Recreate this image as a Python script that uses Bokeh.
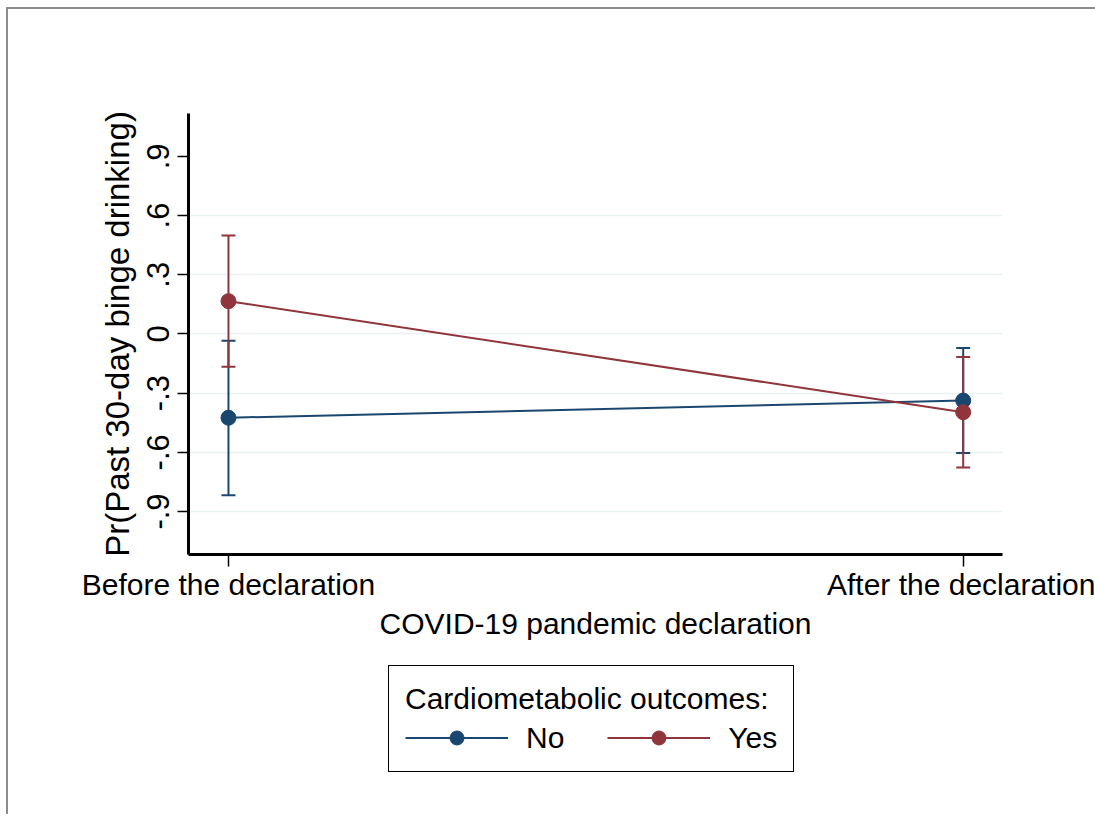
from bokeh.plotting import figure
from bokeh.layouts import column
from bokeh.models import FixedTicker, Legend, LegendItem, Range1d
from bokeh.embed import file_html
from bokeh.resources import INLINE

# ---- data ----
periods = ["Before the declaration", "After the declaration"]
x_pos = [0, 1]
no_mean = [-0.425, -0.338]
no_lo = [-0.818, -0.603]
no_hi = [-0.035, -0.072]
yes_mean = [0.166, -0.397]
yes_lo = [-0.166, -0.677]
yes_hi = [0.499, -0.117]
y_ticks = [-0.9, -0.6, -0.3, 0, 0.3, 0.6, 0.9]
y_tick_labels = ["-.9", "-.6", "-.3", "0", ".3", ".6", ".9"]
grid_ticks = [-0.9, -0.6, -0.3, 0, 0.3, 0.6]
series_names = ["No", "Yes"]

NAVY = "#1a476f"
MAROON = "#90353b"
FONT = "Liberation Sans"

p = figure(width=1087, height=655, output_backend="svg", toolbar_location=None,
           x_range=Range1d(-0.0544, 1.0535), y_range=Range1d(-1.118, 1.117),
           min_border_left=180, min_border_right=93, min_border_top=104,
           min_border_bottom=110)
p.outline_line_color = None
p.background_fill_color = "white"
p.border_fill_color = "white"

# grid
p.xgrid.visible = False
p.ygrid.ticker = FixedTicker(ticks=grid_ticks)
p.ygrid.grid_line_color = "#eaf2f3"
p.ygrid.grid_line_width = 1.5

# axes
for ax in (p.xaxis[0], p.yaxis[0]):
    ax.axis_line_width = 3
    ax.axis_line_color = "black"
    ax.major_tick_in = 0
    ax.major_tick_line_width = 1.5
    ax.major_tick_line_color = "black"
    ax.minor_tick_line_color = None
    ax.major_label_text_font = FONT
    ax.major_label_text_font_size = "30px"
    ax.major_label_text_color = "black"
    ax.axis_label_text_font = FONT
    ax.axis_label_text_font_style = "normal"
    ax.axis_label_text_color = "black"

p.yaxis.ticker = FixedTicker(ticks=y_ticks)
p.yaxis.major_label_overrides = dict(zip(y_ticks, y_tick_labels))
p.yaxis.major_label_orientation = "vertical"
p.yaxis.major_label_text_font_size = "31px"
p.yaxis.major_tick_out = 11
p.yaxis.major_label_standoff = 8
p.yaxis.axis_label = "Pr(Past 30-day binge drinking)"
p.yaxis.axis_label_text_font_size = "33px"
p.yaxis.axis_label_standoff = 9

p.xaxis.ticker = FixedTicker(ticks=x_pos)
p.xaxis.major_label_overrides = dict(zip(x_pos, periods))
p.xaxis.major_tick_out = 12
p.xaxis.major_label_standoff = 1
p.xaxis.axis_label = "COVID-19 pandemic declaration"
p.xaxis.axis_label_text_font_size = "30px"
p.xaxis.axis_label_standoff = 3

# CIs
for lo, hi, col in ((no_lo, no_hi, NAVY), (yes_lo, yes_hi, MAROON)):
    p.segment(x0=x_pos, y0=lo, x1=x_pos, y1=hi, line_color=col, line_width=2)
    p.scatter(x=x_pos, y=lo, marker="dash", size=14, line_color=col, line_width=2)
    p.scatter(x=x_pos, y=hi, marker="dash", size=14, line_color=col, line_width=2)

for mean, col in ((no_mean, NAVY), (yes_mean, MAROON)):
    p.line(x_pos, mean, line_color=col, line_width=2)
    p.scatter(x_pos, mean, size=15, fill_color=col, line_color=col)

# ---- legend panel (separate figure below the chart; its ranges keep the
#      duplicate series out of view so that only the legend shows) ----
lg = figure(width=1087, height=150, output_backend="svg", toolbar_location=None,
            x_axis_type=None, y_axis_type=None,
            x_range=Range1d(100, 101), y_range=Range1d(100, 101),
            min_border_left=0, min_border_right=0, min_border_top=0,
            min_border_bottom=0)
lg.outline_line_color = None
lg.xgrid.visible = False
lg.ygrid.visible = False

items = []
for name, mean, col in ((series_names[0], no_mean, NAVY), (series_names[1], yes_mean, MAROON)):
    ln = lg.line(x=x_pos, y=mean, line_color=col, line_width=2)
    pt = lg.scatter(x=x_pos, y=mean, size=15, fill_color=col, line_color=col)
    items.append(LegendItem(label=name, renderers=[ln, pt]))

legend = Legend(items=items, orientation="horizontal", location=(200, 42),
                title="Cardiometabolic outcomes:",
                title_text_font=FONT, title_text_font_size="30px",
                title_text_font_style="normal", title_standoff=4,
                title_text_color="black",
                label_text_font=FONT, label_text_font_size="30px",
                label_text_color="black",
                glyph_width=103, glyph_height=35, label_standoff=18,
                spacing=43, padding=16, margin=0,
                border_line_color="black", border_line_width=1,
                border_line_alpha=1,
                background_fill_color="white", background_fill_alpha=1)
lg.add_layout(legend, "center")

layout = column(p, lg, spacing=0,
                styles={"margin-left": "6px", "margin-top": "7px",
                        "border-left": "2px solid #8c8c8c",
                        "border-top": "2px solid #8c8c8c"})

open("out.html", "w").write(file_html(layout, INLINE))
